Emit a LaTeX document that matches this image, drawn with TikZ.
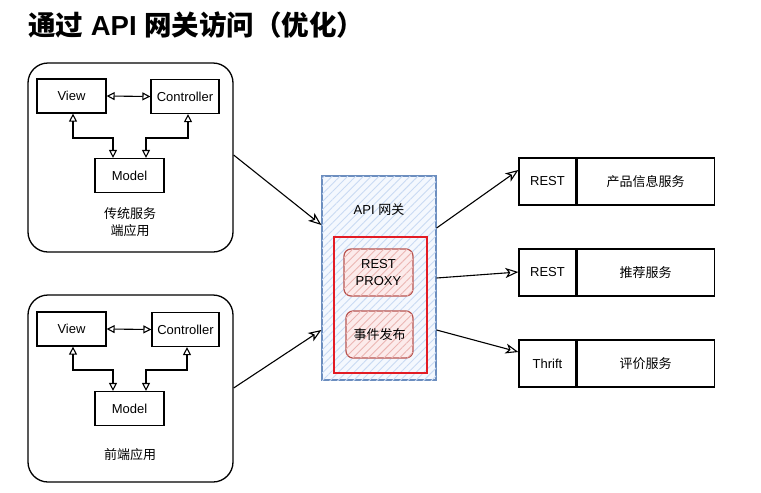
\documentclass[tikz,border=0pt]{standalone}
\usepackage{fontspec}
\setmainfont{Liberation Sans}
\newfontfamily\cjk{Noto Sans CJK SC}
\usetikzlibrary{arrows.meta,patterns.meta,positioning}
\definecolor{gwblue}{HTML}{6C8EBF}
\definecolor{gwfill}{HTML}{DAE8FC}
\definecolor{pxred}{HTML}{B85450}
\definecolor{pxfill}{HTML}{F8CECC}
\definecolor{frame}{HTML}{E31B23}
\tikzset{
  app/.style={draw, line width=1.3pt, rounded corners=20pt},
  mvc/.style={draw, line width=1.2pt, minimum width=69pt, minimum height=34pt, inner sep=0pt, font=\fontsize{13}{15}\selectfont},
  dbl/.style={line width=1.1pt, {Triangle[open,length=8pt,width=8pt]}-{Triangle[open,length=8pt,width=8pt]}},
  flow/.style={line width=1.1pt, -{Stealth[open,length=13pt,width=10pt,inset=3.5pt]}},
  svc/.style={draw, line width=1.2pt, minimum height=47pt, inner sep=0pt, font=\fontsize{13}{15}\selectfont},
  lbl/.style={font=\fontsize{13}{17}\selectfont, align=center},
}
\begin{document}
\begin{tikzpicture}[x=1pt,y=-1pt]
\useasboundingbox (0,0) rectangle (761,493);
% title
\node[font=\fontsize{27.5}{30}\selectfont\bfseries, anchor=west, inner sep=0pt] (title) at (28,25) {{\cjk\bfseries 通过} API {\cjk\bfseries 网关访问（优化）}};

% app 1
\node[app, minimum width=205pt, minimum height=189pt] (app1) at (130.5,157.5) {};
\node[mvc] (v1) at (71.5,96) {View};
\node[mvc, minimum width=68pt] (c1) at (185,96.5) {Controller};
\node[mvc] (m1) at (129.5,175.5) {Model};
\node[lbl] (t1) at (130,222) {\cjk 传统服务\\\cjk 端应用};
\coordinate (a1) at (113,138);
\coordinate (b1) at (146,138);
\draw[dbl] (v1.east) -- (c1.west);
\draw[dbl] (v1.south -| 73,0) |- (a1) -- (m1.north -| a1);
\draw[dbl] (c1.south -| 188,0) |- (b1) -- (m1.north -| b1);

% app 2
\node[app, minimum width=205pt, minimum height=187pt] (app2) at (130.5,388.5) {};
\node[mvc] (v2) at (71.5,329) {View};
\node[mvc, minimum width=67pt] (c2) at (185.5,329.5) {Controller};
\node[mvc] (m2) at (129.5,408.5) {Model};
\node[lbl] (t2) at (130,455) {\cjk 前端应用};
\coordinate (a2) at (113,370);
\coordinate (b2) at (146,370);
\draw[dbl] (v2.east) -- (c2.west);
\draw[dbl] (v2.south -| 73,0) |- (a2) -- (m2.north -| a2);
\draw[dbl] (c2.south -| 187,0) |- (b2) -- (m2.north -| b2);

% gateway
\node[draw=gwblue, line width=1.2pt, fill=gwfill!30, postaction={pattern={Lines[angle=45,distance=5.5pt,line width=0.9pt]}, pattern color=gwfill!85!gwblue}, minimum width=114pt, minimum height=204pt, inner sep=0pt] (gw) at (379,278) {};
\node[lbl] (gwt) at (379,210) {API {\cjk 网关}};
\node[draw=frame, line width=2.4pt, minimum width=93pt, minimum height=136pt, inner sep=0pt] (fr) at (380.5,305) {};
\node[draw=pxred, line width=1.2pt, rounded corners=7pt, fill=pxfill!40, postaction={pattern={Lines[angle=45,distance=5.5pt,line width=0.9pt]}, pattern color=pxfill!80!pxred}, minimum width=69pt, minimum height=47pt, inner sep=0pt, lbl] (px) at (378.5,272.5) {REST\\PROXY};
\node[draw=pxred, line width=1.2pt, rounded corners=7pt, fill=pxfill!40, postaction={pattern={Lines[angle=45,distance=5.5pt,line width=0.9pt]}, pattern color=pxfill!80!pxred}, minimum width=67pt, minimum height=47pt, inner sep=0pt, lbl] (ev) at (379.5,334.5) {\cjk 事件发布};

% services
\node[svc, minimum width=57pt] (p1) at (547.5,181.5) {REST};
\node[svc, minimum width=137pt, anchor=west] (s1) at (p1.east) {\cjk 产品信息服务};
\node[svc, minimum width=57pt] (p2) at (547.5,272.5) {REST};
\node[svc, minimum width=137pt, anchor=west] (s2) at (p2.east) {\cjk 推荐服务};
\node[svc, minimum width=57pt] (p3) at (547.5,363.5) {Thrift};
\node[svc, minimum width=137pt, anchor=west] (s3) at (p3.east) {\cjk 评价服务};

% flows
\draw[flow] (app1.east |- 0,155) -- (gw.west |- 0,225);
\draw[flow] (app2.east |- 0,388) -- (gw.west |- 0,330);
\draw[flow] (gw.east |- 0,228) -- (p1.west |- 0,170);
\draw[flow] (gw.east |- 0,278) -- (p2.west |- 0,272);
\draw[flow] (gw.east |- 0,330) -- (p3.west |- 0,352);
\end{tikzpicture}
\end{document}
